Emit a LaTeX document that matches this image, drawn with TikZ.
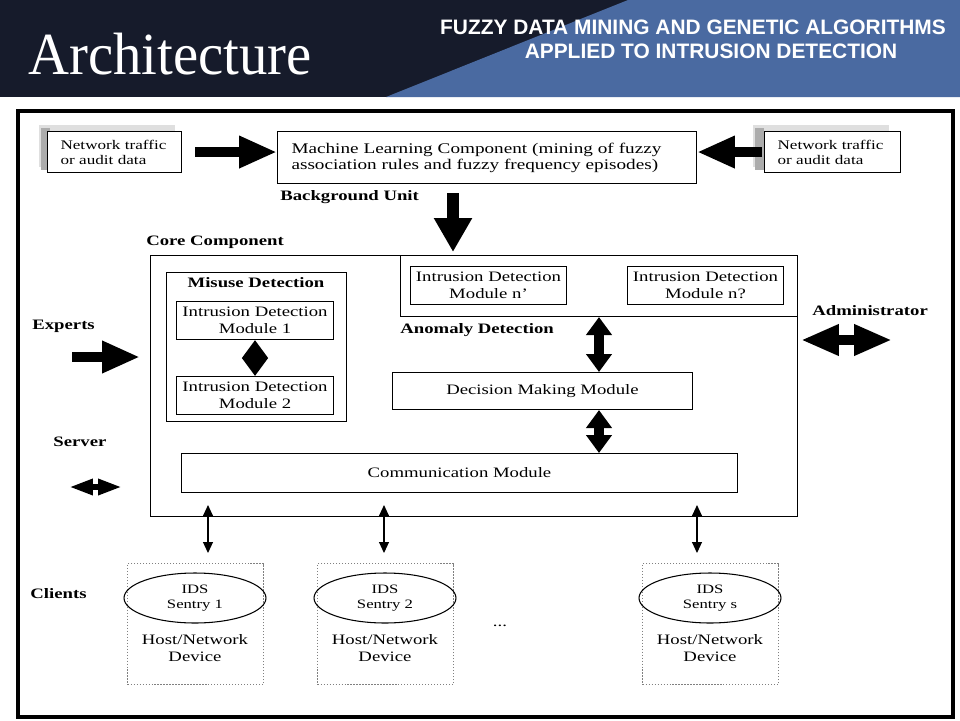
\documentclass[tikz,border=0pt]{standalone}
\usepackage{fontspec}
\setmainfont{Liberation Serif}
\newfontfamily\diagfont{Liberation Serif}[FakeStretch=1.3]
\newfontfamily\titlefont{Liberation Serif}[FakeStretch=0.95]
\newfontfamily\headfont{Liberation Sans}
\usetikzlibrary{arrows.meta,shapes.geometric}
\definecolor{navy}{RGB}{22,27,43}
\definecolor{slideblue}{RGB}{74,106,161}

\begin{document}
\begin{tikzpicture}[x=0.02cm, y=-0.02cm,
	box/.style={draw, line width=0.6pt, inner sep=0pt, anchor=north west, align=center,
		font=\diagfont\fontsize{8.2}{9.6}\selectfont},
	lbl/.style={anchor=west, inner sep=0pt, font=\diagfont\bfseries\fontsize{8.2}{9.6}\selectfont},
	client/.style={draw=gray, densely dotted, line width=0.7pt, anchor=north west,
		minimum width=2.72cm, minimum height=2.42cm},
	sentry/.style={draw, ellipse, line width=0.6pt, inner sep=0pt, minimum width=2.84cm,
		minimum height=1cm, align=center, font=\diagfont\fontsize{7.3}{8.2}\selectfont},
	fatarrow/.style={line width=0.2cm, -{Triangle[length=0.76cm, width=0.6cm]}},
	dblfat/.style={line width=0.2cm, {Triangle[length=0.76cm, width=0.58cm]}-{Triangle[length=0.76cm, width=0.58cm]}},
	downarrow/.style={line width=0.24cm, -{Triangle[length=0.68cm, width=0.72cm]}},
	dblmid/.style={line width=0.2cm, {Triangle[length=0.36cm, width=0.5cm]}-{Triangle[length=0.36cm, width=0.5cm]}},
	srvarrow/.style={line width=0.12cm, {Triangle[length=0.48cm, width=0.3cm]}-{Triangle[length=0.48cm, width=0.3cm]}},
	thinarrow/.style={line width=0.6pt, {Triangle[length=0.22cm, width=0.2cm]}-{Triangle[length=0.22cm, width=0.2cm]}}]
	\useasboundingbox (0,0) rectangle (960,720);

	% slide header
	\fill[navy] (0,0) rectangle (960,97);
	\fill[slideblue] (628,0) -- (960,0) -- (960,97) -- (386,97) -- cycle;
	\node[anchor=base west, inner sep=0pt, text=white, font=\titlefont\fontsize{34}{34}\selectfont]
		(title) at (28,74) {Architecture};
	\node[anchor=base, inner sep=0pt, text=white, font=\headfont\bfseries\fontsize{11.9}{13}\selectfont]
		(sub1) at (693,34) {FUZZY DATA MINING AND GENETIC ALGORITHMS};
	\node[anchor=base, inner sep=0pt, text=white, font=\headfont\bfseries\fontsize{11.9}{13}\selectfont]
		(sub2) at (711,58) {APPLIED TO INTRUSION DETECTION};

	\draw[line width=2pt] (18,111) rectangle (953,717);

	% background unit
	\fill[gray!25] (39,125) rectangle (175,167);
	\fill[gray!65] (41,128) rectangle (50,170);
	\node[box, fill=white, align=left, inner xsep=0.26cm, text width=2.16cm, minimum height=0.82cm,
		font=\diagfont\fontsize{7.5}{8.6}\selectfont] (netl) at (47,131) {Network traffic\\or audit data};
	\fill[gray!25] (753,125) rectangle (889,167);
	\fill[gray!65] (755,128) rectangle (764,170);
	\node[box, fill=white, align=left, inner xsep=0.26cm, text width=2.2cm, minimum height=0.82cm,
		font=\diagfont\fontsize{7.5}{8.6}\selectfont] (netr) at (764,131) {Network traffic\\or audit data};
	\node[box, align=left, inner xsep=0.28cm, text width=7.82cm, minimum height=1.04cm,
		font=\diagfont\fontsize{8.4}{9.1}\selectfont] (ml) at (277,131)
		{Machine Learning Component (mining of fuzzy\\association rules and fuzzy frequency episodes)};
	\node[lbl] (bgu) at (280,197) {Background Unit};

	% core component
	\node[lbl] (corelbl) at (146,242) {Core Component};
	\node[box, minimum width=12.94cm, minimum height=5.22cm] (core) at (150,255) {};
	\node[box, minimum width=7.94cm, minimum height=1.22cm] (anom) at (400,255) {};
	\node[box, minimum width=3.12cm, minimum height=0.76cm] (modn1) at (410,266) {Intrusion Detection\\Module n’};
	\node[box, minimum width=3.12cm, minimum height=0.76cm] (modn2) at (627,266) {Intrusion Detection\\Module n?};
	\node[lbl] (anomlbl) at (400,330) {Anomaly Detection};

	\node[box, minimum width=3.6cm, minimum height=2.98cm] (misuse) at (166,272) {};
	\node[lbl, anchor=center] (misuselbl) at (256,283) {Misuse Detection};
	\node[box, minimum width=3.14cm, minimum height=0.76cm] (mod1) at (176,301) {Intrusion Detection\\Module 1};
	\node[box, minimum width=3.14cm, minimum height=0.76cm] (mod2) at (176,376) {Intrusion Detection\\Module 2};

	\node[box, minimum width=6cm, minimum height=0.74cm] (dec) at (392,372) {Decision Making Module};
	\node[box, minimum width=11.12cm, minimum height=0.78cm] (comm) at (181,453) {Communication Module};

	% outside actors
	\node[lbl] (experts) at (32,326) {Experts};
	\node[lbl] (server) at (53,442) {Server};
	\node[lbl] (admin) at (812,311) {Administrator};
	\node[lbl] (clients) at (30,594) {Clients};

	% clients
	\node[client] (cl1) at (127,563) {};
	\node[client] (cl2) at (317,563) {};
	\node[client] (cl3) at (642,563) {};
	\node[sentry] (s1) at (195,598) {IDS\\Sentry 1};
	\node[sentry] (s2) at (385,598) {IDS\\Sentry 2};
	\node[sentry] (s3) at (710,598) {IDS\\Sentry s};
	\node[box, draw=none, anchor=center] (h1) at (195,648) {Host/Network\\Device};
	\node[box, draw=none, anchor=center] (h2) at (385,648) {Host/Network\\Device};
	\node[box, draw=none, anchor=center] (h3) at (710,648) {Host/Network\\Device};
	\node[box, draw=none, anchor=center] (dots) at (500,626) {...};

	% connectors
	\draw[fatarrow, shorten <=0.26cm] (netl.east) -- (netl.east -| ml.west);
	\draw[fatarrow, shorten <=0.04cm] (netr.west) -- (netr.west -| ml.east);

	\coordinate (bgdown) at (453,0);
	\draw[downarrow, shorten <=0.18cm, shorten >=0.06cm] (ml.south -| bgdown) -- (core.north -| bgdown);

	\coordinate (expfrom) at (72,357);
	\draw[fatarrow, shorten >=0.2cm] (expfrom) -- (expfrom -| core.west);
	\coordinate (srvfrom) at (69,487);
	\coordinate (srvto) at (122,487);
	\draw[srvarrow] (srvfrom) -- (srvto);
	\coordinate (admto) at (892,340);
	\draw[dblfat, shorten <=0.06cm] (admto -| core.east) -- (admto);

	\draw[dblmid] (mod1.south) -- (mod2.north);
	\coordinate (dm) at (599,0);
	\draw[dblmid] (anom.south -| dm) -- (dec.north -| dm);
	\draw[dblmid] (dec.south -| dm) -- (comm.north -| dm);

	\coordinate (c1) at (208,0);
	\coordinate (c2) at (384,0);
	\coordinate (c3) at (697,0);
	\draw[thinarrow, shorten <=0.24cm, shorten >=0.2cm] (comm.south -| c1) -- (cl1.north -| c1);
	\draw[thinarrow, shorten <=0.24cm, shorten >=0.2cm] (comm.south -| c2) -- (cl2.north -| c2);
	\draw[thinarrow, shorten <=0.24cm, shorten >=0.2cm] (comm.south -| c3) -- (cl3.north -| c3);
\end{tikzpicture}
\end{document}
